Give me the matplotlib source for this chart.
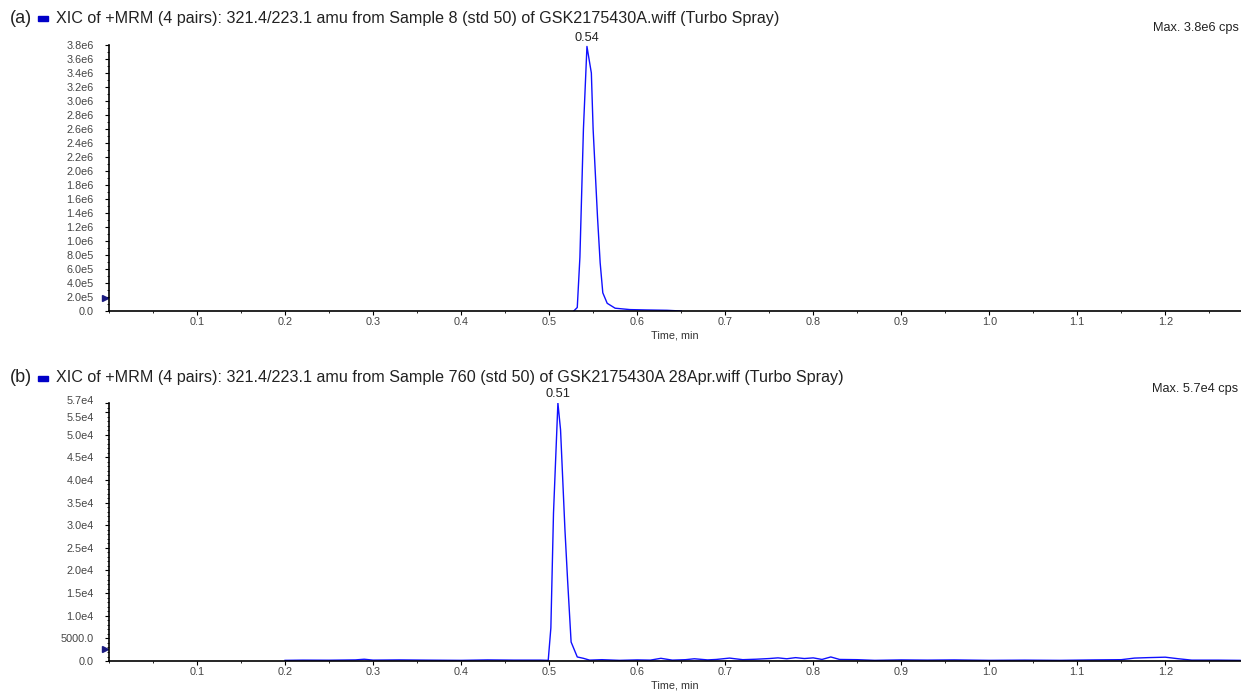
import numpy as np
import matplotlib.pyplot as plt
from matplotlib.patches import Rectangle
from matplotlib.ticker import MultipleLocator, FixedLocator, FuncFormatter

plt.rcParams['font.family'] = ['Liberation Sans', 'DejaVu Sans']

# ---- data ----
title_a = "XIC of +MRM (4 pairs): 321.4/223.1 amu from Sample 8 (std 50) of GSK2175430A.wiff (Turbo Spray)"
title_b = "XIC of +MRM (4 pairs): 321.4/223.1 amu from Sample 760 (std 50) of GSK2175430A 28Apr.wiff (Turbo Spray)"
max_a = "Max. 3.8e6 cps"
max_b = "Max. 5.7e4 cps"

# panel (a): time (min) / intensity (cps)
t_a = [0.528, 0.532, 0.535, 0.539, 0.543, 0.548, 0.550, 0.555, 0.558, 0.561,
       0.566, 0.575, 0.592, 0.610, 0.634, 0.650]
v_a = [0, 0.05e6, 0.77e6, 2.6e6, 3.78e6, 3.4e6, 2.6e6, 1.34e6, 0.69e6, 0.26e6,
       0.11e6, 0.04e6, 0.02e6, 0.015e6, 0.01e6, 0]
peak_a = (0.543, 3.78e6, "0.54")

# panel (b)
t_b = [0.20, 0.22, 0.25, 0.28, 0.29, 0.30, 0.33, 0.36, 0.40, 0.43, 0.46, 0.49,
       0.499, 0.502, 0.505, 0.510, 0.513, 0.518, 0.521, 0.525, 0.532, 0.539,
       0.546, 0.56, 0.58, 0.60, 0.615, 0.627, 0.64, 0.655, 0.665, 0.68, 0.69,
       0.705, 0.72, 0.735, 0.75, 0.76, 0.77, 0.78, 0.79, 0.80, 0.81, 0.82,
       0.83, 0.85, 0.87, 0.90, 0.93, 0.96, 1.00, 1.04, 1.08, 1.12, 1.15,
       1.165, 1.18, 1.20, 1.215, 1.23, 1.26, 1.285]
v_b = [150, 200, 180, 250, 400, 200, 250, 200, 150, 250, 200, 200,
       150, 7300, 32700, 57000, 51100, 29000, 17900, 4200, 900, 600,
       200, 300, 150, 250, 200, 600, 200, 300, 500, 250, 350,
       650, 300, 400, 550, 700, 500, 750, 550, 700, 350, 900,
       350, 300, 150, 250, 200, 250, 150, 200, 150, 250, 300,
       650, 750, 850, 500, 200, 200, 150]
gray_t_b = [0.20, 1.285]
gray_v_b = [0, 0]
peak_b = (0.510, 57000, "0.51")

x_major = [0.1, 0.2, 0.3, 0.4, 0.5, 0.6, 0.7, 0.8, 0.9, 1.0, 1.1, 1.2]
yt_a = [0, 2e5, 4e5, 6e5, 8e5, 1.0e6, 1.2e6, 1.4e6, 1.6e6, 1.8e6, 2.0e6, 2.2e6,
        2.4e6, 2.6e6, 2.8e6, 3.0e6, 3.2e6, 3.4e6, 3.6e6, 3.8e6]
yt_b = [0, 5000, 1.0e4, 1.5e4, 2.0e4, 2.5e4, 3.0e4, 3.5e4, 4.0e4, 4.5e4, 5.0e4, 5.5e4, 5.7e4]
# top labels in (b) that the software spreads apart: value, vertical nudge (pt)
crowded_b = [(5.5e4, -4), (5.7e4, 1.5)]


def sci(v, pos=None):
    if v == 0:
        return "0.0"
    if abs(v) < 1e4:
        return "%.1f" % v
    m, e = ("%.1e" % v).split("e")
    return m + "e" + str(int(e))


def sci_b(v, pos=None):
    if any(abs(v - c[0]) < 1 for c in crowded_b):
        return ""
    return sci(v)


fig = plt.figure(figsize=(12.41, 6.97), dpi=100)
ax_a = fig.add_axes([0.0878, 0.5538, 0.9122, 0.3816])
ax_b = fig.add_axes([0.0878, 0.0516, 0.9122, 0.3702])

blue = '#1010ff'
tick_fs = 7.8
for ax, t, v, yt, ytop, pk, minor, fmt in [(ax_a, t_a, v_a, yt_a, 3.8e6, peak_a, 1e5, sci),
                                           (ax_b, t_b, v_b, yt_b, 5.7e4, peak_b, 1000, sci_b)]:
    if ax is ax_b:
        ax.plot(gray_t_b, gray_v_b, color='#a0a0a0', lw=1.0)
    ax.plot(t, v, color=blue, lw=1.0)
    ax.set_xlim(0, 1.286)
    ax.set_ylim(0, ytop)
    ax.spines['top'].set_visible(False)
    ax.spines['right'].set_visible(False)
    ax.spines['left'].set_linewidth(1.2)
    ax.spines['bottom'].set_linewidth(1.2)
    ax.xaxis.set_major_locator(FixedLocator(x_major))
    ax.xaxis.set_minor_locator(MultipleLocator(0.05))
    ax.yaxis.set_major_locator(FixedLocator(yt))
    ax.yaxis.set_minor_locator(MultipleLocator(minor))
    ax.yaxis.set_major_formatter(FuncFormatter(fmt))
    ax.tick_params(axis='both', labelsize=tick_fs, labelcolor='#444444', length=3, width=0.8)
    ax.tick_params(axis='both', which='minor', length=1.5, width=0.6)
    ax.tick_params(axis='x', pad=1.5)
    ax.tick_params(axis='y', pad=8)
    ax.set_xlabel("Time, min", fontsize=tick_fs, color='#333333', labelpad=2)
    ax.annotate(pk[2], (pk[0], pk[1]), xytext=(0, 2), textcoords='offset points',
                ha='center', va='bottom', fontsize=9.2, color='#222222',
                annotation_clip=False)
    # small marker on the y axis
    ax.plot([-0.004], [yt[1] * 0.95 if ax is ax_a else 2600], marker='>',
            color='#1a1a80', markersize=4, clip_on=False)

for val, dy in crowded_b:
    ax_b.annotate(sci(val), (0, val), xycoords=('axes fraction', 'data'),
                  xytext=(-11, dy), textcoords='offset points', ha='right', va='center',
                  fontsize=tick_fs, color='#444444', annotation_clip=False)

# titles
for y, lab, title, mx, my in [(0.974, "(a)", title_a, max_a, 0.96),
                              (0.458, "(b)", title_b, max_b, 0.442)]:
    fig.text(0.008, y, lab, fontsize=13, va='center', ha='left', color='#222222')
    fig.patches.append(Rectangle((0.031, y - 0.004), 0.008, 0.007,
                                 transform=fig.transFigure, color='#0000c8', figure=fig))
    fig.text(0.045, y, title, fontsize=11.6, va='center', ha='left', color='#222222')
    fig.text(0.998, my, mx, fontsize=9.2, va='center', ha='right', color='#222222')

fig.savefig("out.png", dpi=100)
